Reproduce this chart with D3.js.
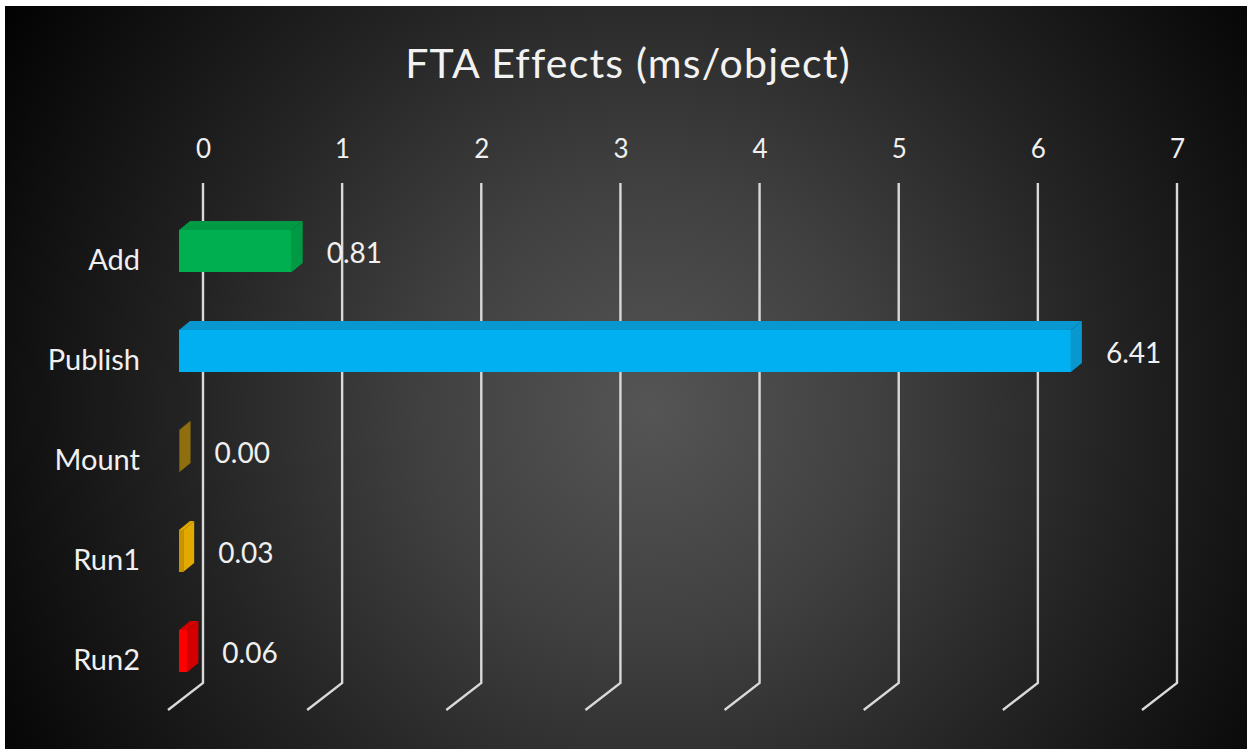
<!DOCTYPE html>
<html><head><meta charset="utf-8">
<script src="https://cdn.jsdelivr.net/npm/d3@7"></script>
<style>html,body{margin:0;padding:0;background:#fff;overflow:hidden}svg{display:block}</style>
</head><body>
<svg id="chart" width="1247" height="749"></svg>
<script>
const categories = ["Add", "Publish", "Mount", "Run1", "Run2"];
const values = [0.81, 6.41, 0.004, 0.03, 0.06];
const tickValues = [0, 1, 2, 3, 4, 5, 6, 7];
const frontColors = ["#00b050", "#00b0f0", "#7f6000", "#c89400", "#ff0000"];
const sideColors = ["#009a45", "#0898cf", "#8f6e10", "#e2aa00", "#d40000"];
const title = "FTA Effects (ms/object)";

const W = 1247, H = 749;
const FONT = "Lato, 'Open Sans', sans-serif";
const svg = d3.select("#chart");

const defs = svg.append("defs");
const rg = defs.append("radialGradient").attr("id", "bg")
  .attr("gradientUnits", "userSpaceOnUse")
  .attr("cx", 650).attr("cy", 410).attr("r", 760);
[[0, "#555555"], [0.3, "#404040"], [0.6, "#242424"], [0.85, "#0f0f0f"], [1, "#020202"]]
  .forEach(([o, c]) => rg.append("stop").attr("offset", o).attr("stop-color", c));

svg.append("rect").attr("x", 0).attr("y", 0).attr("width", W).attr("height", H).attr("fill", "#fff");
svg.append("rect").attr("x", 5).attr("y", 6).attr("width", W - 5).attr("height", H - 6).attr("fill", "url(#bg)");

// scales
const x = d3.scaleLinear().domain([0, 7]).range([203, 1177]);
const y = d3.scalePoint().domain(categories).range([251, 651]);

const gridTop = 183, gridBottom = 683;
const depthDx = -35, depthDy = 27;   // floor depth
const barShift = -24;                 // front face offset from back wall
const barH = 42, topDx = 11, topDy = 9;

// title
svg.append("text").attr("x", 628).attr("y", 78).attr("text-anchor", "middle")
  .attr("font-family", FONT).attr("font-size", 41).attr("letter-spacing", 1.2)
  .attr("fill", "#f2f2f2").text(title);

// gridlines (back wall + floor)
const grid = svg.append("g");
tickValues.forEach(t => {
  const gx = x(t);
  grid.append("path")
    .attr("d", d3.line()([[gx, gridTop], [gx, gridBottom], [gx + depthDx, gridBottom + depthDy]]))
    .attr("fill", "none").attr("stroke", "#d9d9d9").attr("stroke-width", 2.4);
});

// top axis tick labels
const axis = d3.axisTop(x).tickValues(tickValues).tickSize(0).tickPadding(0).tickFormat(d3.format("d"));
const axG = svg.append("g").attr("transform", "translate(0,158)").call(axis);
axG.select(".domain").remove();
axG.selectAll("text").attr("font-family", FONT).attr("font-size", 26).attr("fill", "#f0f0f0");

// bars
const bars = svg.append("g");
categories.forEach((c, i) => {
  const v = values[i];
  const x0 = x(0) + barShift, x1 = x(v) + barShift;
  const top = y(c) - barH / 2, bot = y(c) + barH / 2;
  const g = bars.append("g");
  // top face
  g.append("path").attr("d", d3.line()([[x0, top], [x0 + topDx, top - topDy], [x1 + topDx, top - topDy], [x1, top]]) + "Z")
    .attr("fill", sideColors[i]);
  // side face
  g.append("path").attr("d", d3.line()([[x1, top], [x1 + topDx, top - topDy], [x1 + topDx, bot - topDy], [x1, bot]]) + "Z")
    .attr("fill", sideColors[i]);
  // front face
  g.append("rect").attr("x", x0).attr("y", top).attr("width", Math.max(0, x1 - x0)).attr("height", barH)
    .attr("fill", frontColors[i]);
  // value label
  svg.append("text").attr("x", x1 + topDx + 24).attr("y", y(c) + 2).attr("dy", "0.35em")
    .attr("font-family", FONT).attr("font-size", 28).attr("fill", "#f0f0f0")
    .text(v.toFixed(2));
  // category label
  svg.append("text").attr("x", 140).attr("y", y(c) + 9).attr("dy", "0.35em").attr("text-anchor", "end")
    .attr("font-family", FONT).attr("font-size", 29).attr("fill", "#f0f0f0")
    .text(c);
});
</script>
</body></html>
